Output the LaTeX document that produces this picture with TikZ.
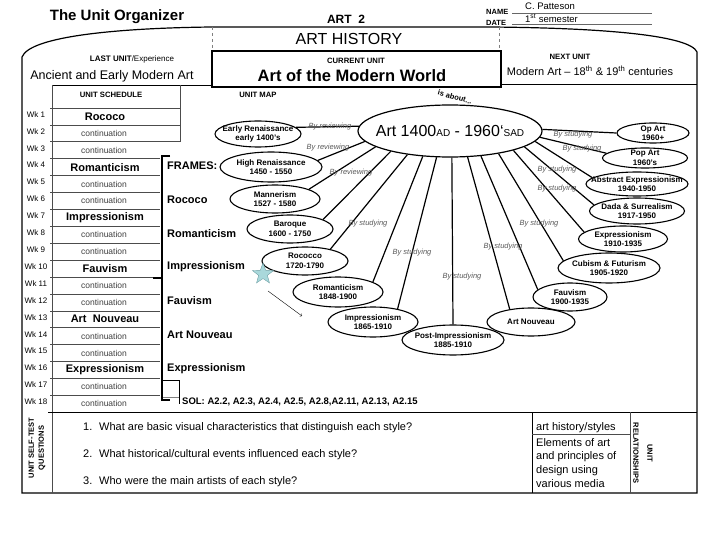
\documentclass[tikz,border=0pt]{standalone}
\usepackage{fontspec}
\setmainfont{Liberation Sans}
\usetikzlibrary{shapes.geometric}
\newcommand{\fsz}[1]{\fontsize{#1}{#1}\selectfont}
\definecolor{starfill}{HTML}{A9D8DB}
\definecolor{starline}{HTML}{6E9FA4}

\begin{document}
\begin{tikzpicture}[x=1pt, y=-1pt,
    every node/.style={font=\fsz{8}, inner sep=1pt},
    hdr/.style={font=\bfseries\fsz{7.7}},
    wk/.style={font=\fsz{8}},
    cont/.style={font=\fsz{8.5}, text=black!75},
    topic/.style={font=\bfseries\fsz{11}},
    era/.style 2 args={draw, ellipse, line width=1.1pt, minimum width=#1pt, minimum height=#2pt, inner sep=0pt},
    eratxt/.style={font=\bfseries\fontsize{8}{9.5}\selectfont, align=center, inner sep=0pt},
    link/.style={line width=1.2pt},
    bylbl/.style={font=\itshape\fsz{7.5}, text=black!65},
    quest/.style={font=\fsz{11}},
    rule/.style={line width=0.6pt, black!70}]
    \useasboundingbox (0,0) rectangle (720,540);

    % Header
    \node[font=\bfseries\fsz{15}] (title) at (117,17) {The Unit Organizer};
    \node[font=\bfseries\fsz{12}] (course) at (346,19) {ART\ \ 2};
    \node[font=\bfseries\fsz{7.5}, anchor=west] (namel) at (485,12) {NAME};
    \node[font=\bfseries\fsz{7.5}, anchor=west] (datel) at (485,23) {DATE};
    \draw[black!60] (512,13) -- (652,13);
    \draw[black!60] (512,24) -- (652,24);
    \node[font=\fsz{9.5}, anchor=west] (name) at (524,6) {C. Patteson};
    \node[font=\fsz{9.5}, anchor=west] (date) at (524,18) {1\textsuperscript{st} semester};

    % Outer frame
    \draw[line width=1.2pt] (22,493) -- (22,57) .. controls (30,36) and (120,28) .. (212,27)
        -- (490,27) .. controls (610,28) and (690,36) .. (697,52) -- (697,493) -- cycle;
    \draw[dashed, black!50] (212,27) -- (212,51);
    \draw[dashed, black!50] (499,27) -- (499,51);
    \node[font=\fsz{16}] (subject) at (349,39) {ART HISTORY};

    % Last, current and next unit
    \draw[line width=1.6pt] (212,51) rectangle (501,87);
    \draw[line width=0.8pt] (52,85) -- (212,85);
    \draw[line width=0.8pt] (501,84) -- (697,84);
    \node (lastl) at (132,59) {\textbf{LAST UNIT}/Experience};
    \node[font=\fsz{12.5}] (last) at (112,76) {Ancient and Early Modern Art};
    \node[hdr] (currl) at (356,61) {CURRENT UNIT};
    \node[font=\bfseries\fsz{16.5}] (curr) at (352,76) {Art of the Modern World};
    \node[hdr] (nextl) at (570,57) {NEXT UNIT};
    \node[font=\fsz{11}] (next) at (590,71) {Modern Art -- 18\textsuperscript{th} \& 19\textsuperscript{th} centuries};

    % Unit schedule
    \node[hdr] (schedl) at (111,95) {UNIT SCHEDULE};
    \node[hdr] (mapl) at (258,95) {UNIT MAP};
    \draw[rule] (180,85) -- (180,142);
    \draw[rule] (52,85) -- (52,493);
    \foreach \k in {0,...,17} {
        \pgfmathsetmacro\xr{\k<3 ? 180 : 160}
        \draw[rule] (50,{108+16.9*\k}) -- (\xr,{108+16.9*\k});
    }
    \foreach \i in {1,...,18}
        \node[wk] (wk\i) at (36,{108+16.9*\i-10.5}) {Wk \i};
    \foreach \i/\t in {1/Rococo, 4/Romanticism, 7/Impressionism, 10/Fauvism, 13/Art\ \ Nouveau, 16/Expressionism}
        \node[topic] (row\i) at (105,{108+16.9*\i-8.45}) {\t};
    \foreach \i in {2,3,5,6,8,9,11,12,14,15,17,18}
        \node[cont] (row\i) at (104,{108+16.9*\i-8.45}) {continuation};

    % Frames bracket
    \draw[line width=2.5pt] (170,156) -- (162,156) -- (162,400) -- (170,400);
    \draw[line width=2.5pt] (162,278) -- (153,278);
    \foreach \t [count=\j from 0] in {FRAMES:, Rococo, Romanticism, Impressionism, Fauvism, Art Nouveau, Expressionism}
        \node[topic, anchor=west] (frame\j) at (166,{166+33.7*\j}) {\t};
    \draw[thin] (163,380) -- (179,380) -- (179,404);
    \draw[thin, black!50] (163,397) -- (179,397);
    \node[font=\bfseries\fsz{9.5}, anchor=west] (sol) at (181,402) {SOL: A2.2, A2.3, A2.4, A2.5, A2.8,A2.11, A2.13, A2.15};

    % Unit map
    \node[font=\bfseries\fsz{7.5}, rotate=-16] (about) at (455,97) {is about...};
    \node[draw, ellipse, line width=1.2pt, minimum width=184pt, minimum height=52pt, inner sep=0pt,
        label={[font=\fsz{16}]center:Art 1400{\fsz{10}AD} - 1960‘{\fsz{10}SAD}}] (hub) at (450,131) {};

    \node[era={86}{26}, label={[eratxt]center:Early Renaissance\\early 1400’s}] (early) at (258,134) {};
    \node[era={102}{30}, label={[eratxt]center:High Renaissance\\1450 - 1550}] (highren) at (271,167) {};
    \node[era={90}{28}, label={[eratxt]center:Mannerism\\1527 - 1580}] (manner) at (275,199) {};
    \node[era={86}{28}, label={[eratxt]center:Baroque\\1600 - 1750}] (baroque) at (290,229) {};
    \node[era={86}{28}, label={[eratxt]center:Rococco\\1720-1790}] (rococco) at (305,261) {};
    \node[era={90}{30}, label={[eratxt]center:Romanticism\\1848-1900}] (roman) at (338,292) {};
    \node[era={90}{30}, label={[eratxt]center:Impressionism\\1865-1910}] (impress) at (373,322) {};
    \node[era={102}{30}, label={[eratxt]center:Post-Impressionism\\1885-1910}] (postimp) at (453,340) {};
    \node[era={88}{28}, label={[eratxt]center:Art Nouveau}] (nouveau) at (531,322) {};
    \node[era={74}{28}, label={[eratxt]center:Fauvism\\1900-1935}] (fauv) at (570,297) {};
    \node[era={102}{30}, label={[eratxt]center:Cubism \& Futurism\\1905-1920}] (cubism) at (609,268) {};
    \node[era={89}{26}, label={[eratxt]center:Expressionism\\1910-1935}] (express) at (623,239) {};
    \node[era={95}{26}, label={[eratxt]center:Dada \& Surrealism\\1917-1950}] (dada) at (637,211) {};
    \node[era={102}{24}, label={[eratxt]center:Abstract Expressionism\\1940-1950}] (abstract) at (637,184) {};
    \node[era={85}{20}, label={[eratxt]center:Pop Art\\1960’s}] (pop) at (645,158) {};
    \node[era={72}{20}, label={[eratxt]center:Op Art\\1960+}] (op) at (653,133) {};

    \foreach \e/\a/\b in {early/177/10, highren/187/8, manner/192/16, baroque/199/16, rococco/209/25,
        roman/223/16, impress/243/28, postimp/274/90, nouveau/304/149, fauv/321/167, cubism/335/171,
        express/343/170, dada/348/172, abstract/353/172, pop/356/173, op/1/180}
        \draw[link] (hub.\a) -- (\e.\b);

    \foreach \px/\py/\t [count=\n] in {330/127/reviewing, 328/148/reviewing, 351/173/reviewing,
        368/224/studying, 412/253/studying, 462/277/studying, 503/247/studying, 539/224/studying,
        557/189/studying, 557/170/studying, 582/149/studying, 573/135/studying}
        \node[bylbl] (by\n) at (\px,\py) {By \t};

    \node[star, star points=5, star point ratio=2.4, minimum size=22pt, inner sep=0pt,
        fill=starfill, draw=starline] (star) at (263,274) {};
    \coordinate (arrS) at (268,291);
    \coordinate (arrE) at (302,316);
    \draw[->, thin] (arrS) -- (arrE);

    % Self-test questions and relationships
    \draw[line width=1pt] (48,412) -- (697,412);
    \draw[line width=1pt] (532,412) -- (532,493);
    \draw[rule] (630,412) -- (630,493);
    \draw[rule] (532,434) -- (630,434);
    \node[font=\bfseries\fontsize{7.5}{10}\selectfont, rotate=90, align=center] (selftest) at (37,448) {UNIT SELF-TEST\\QUESTIONS};
    \foreach \q/\t [count=\n] in {428/{What are basic visual characteristics that distinguish each style?},
        455/{What historical/cultural events influenced each style?},
        482/{Who were the main artists of each style?}}
        \node[quest, anchor=west] (q\n) at (82,\q) {\makebox[16pt][l]{\n.}\t};
    \node[font=\fsz{11}, anchor=west] (rel1) at (535,428) {art history/styles};
    \node[font=\fontsize{11}{13.7}\selectfont, anchor=north west, align=left] (rel2) at (535,437)
        {Elements of art\\and principles of\\design using\\various media};
    \node[font=\bfseries\fontsize{7.5}{14}\selectfont, rotate=-90, align=center] (unitrel) at (643,453) {UNIT\\RELATIONSHIPS};
\end{tikzpicture}
\end{document}
